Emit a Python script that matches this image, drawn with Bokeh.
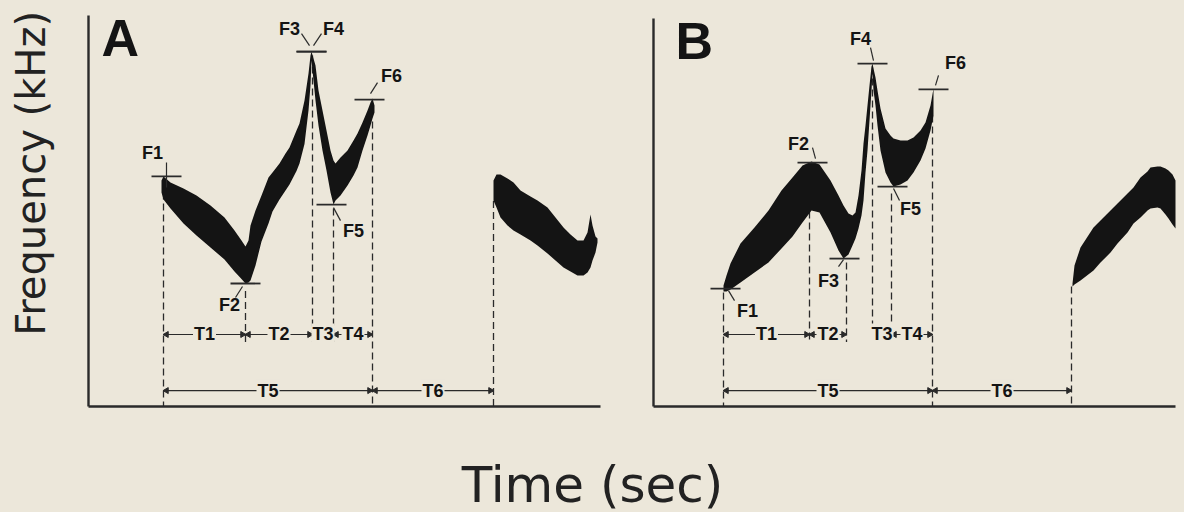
import math
from bokeh.plotting import figure
from bokeh.layouts import column, row
from bokeh.models import Range1d
from bokeh.core.properties import value
from bokeh.embed import file_html
from bokeh.resources import INLINE

BG = "#ECE7DA"
INK = "#141414"
LINE = "#2a2a2a"

# ---------------- data (time in ms from axis origin, frequency in kHz) ----------------
# Panel A: song contour (upper / lower edge of the trace)
a_song_t = [73, 75, 82, 95, 108, 122, 136, 146, 153, 157, 160, 162, 167, 173, 180, 184, 191, 197, 201, 208,
            211, 216, 220, 222, 223, 225, 227, 230, 234, 238, 242, 245, 247, 252, 259, 265, 269, 274, 279, 282,
            284, 286]
a_song_hi = [7.53, 7.67, 7.47, 7.27, 7.03, 6.70, 6.30, 5.87, 5.53, 5.33, 5.53, 6.03, 6.53, 7.03, 7.63, 7.80,
             8.10, 8.43, 8.63, 9.20, 9.43, 10.20, 11.10, 11.70, 11.83, 11.60, 11.37, 10.53, 9.87, 9.20, 8.53,
             8.20, 8.10, 8.30, 8.53, 8.87, 9.10, 9.47, 9.87, 10.13, 10.27, 10.03]
a_song_lo = [7.13, 6.90, 6.60, 6.10, 5.70, 5.30, 4.90, 4.50, 4.25, 4.10, 4.13, 4.20, 4.70, 5.50, 6.10, 6.50,
             6.90, 7.20, 7.40, 7.85, 8.10, 8.75, 9.87, 10.70, 11.53, 10.87, 10.20, 9.37, 8.53, 7.87, 7.13,
             6.73, 6.87, 7.03, 7.37, 7.70, 7.97, 8.53, 9.03, 9.37, 9.60, 9.80]
# Panel A: start of the next song
a_next_t = [405, 408, 412, 419, 425, 432, 442, 449, 459, 467, 475, 482, 489, 495, 499, 502, 504, 507, 509]
a_next_hi = [7.53, 7.73, 7.73, 7.60, 7.47, 7.20, 7.00, 6.87, 6.63, 6.30, 5.97, 5.73, 5.53, 5.53, 5.80, 6.40,
             6.03, 5.67, 5.60]
a_next_lo = [6.87, 6.63, 6.30, 6.03, 5.87, 5.73, 5.53, 5.37, 5.10, 4.87, 4.63, 4.50, 4.37, 4.37, 4.47, 4.63,
             4.87, 5.13, 5.47]
# Panel A: frequency measurement points
a_f_names = ["F1", "F2", "F3", "F4", "F5", "F6"]
a_f_t = [78, 157, 223, 223, 243, 281]
a_f_khz = [7.67, 4.10, 11.83, 11.83, 6.73, 10.23]
# Panel A: time intervals
a_bound_t = [75, 157, 224, 245, 284, 405]
a_bound_top = [7.50, 3.85, 11.70, 6.60, 9.50, 6.85]
a_bound_to_axis = [True, False, False, False, True, True]
a_t_names = ["T1", "T2", "T3", "T4"]
a_t_start = [75, 157, 224, 245]
a_t_end = [157, 224, 245, 284]
a_tt_names = ["T5", "T6"]
a_tt_start = [75, 284]
a_tt_end = [284, 405]

# Panel B
b_song_t = [70, 73, 77, 87, 101, 115, 128, 139, 149, 158, 166, 177, 185, 190, 195, 199, 202, 205, 208, 210,
            212, 214, 216, 218, 219, 220, 222, 224, 227, 232, 237, 240, 247, 254, 260, 267, 272, 277, 280]
b_song_hi = [4.03, 4.37, 4.77, 5.43, 5.97, 6.53, 7.20, 7.63, 8.03, 8.17, 8.07, 7.53, 7.03, 6.70, 6.43, 6.37,
             6.47, 7.03, 7.87, 8.77, 9.37, 10.03, 10.70, 11.33, 11.43, 11.27, 10.97, 10.53, 9.93, 9.27, 9.03,
             8.93, 8.87, 8.87, 8.97, 9.20, 9.47, 10.03, 10.60]
b_song_lo = [3.83, 3.83, 3.90, 4.13, 4.47, 4.80, 5.27, 5.67, 6.13, 6.53, 6.47, 5.80, 5.20, 4.93, 5.07, 5.37,
             5.60, 5.93, 6.37, 6.87, 7.80, 8.53, 9.53, 10.53, 11.13, 10.53, 10.03, 9.37, 8.53, 7.80, 7.47,
             7.33, 7.40, 7.53, 7.80, 8.20, 8.60, 9.20, 9.70]
b_next_t = [419, 421, 427, 440, 447, 457, 464, 474, 480, 487, 494, 497, 504, 507, 512, 515, 519, 522]
b_next_hi = [4.10, 4.70, 5.30, 5.97, 6.20, 6.53, 6.77, 7.10, 7.30, 7.63, 7.83, 7.97, 8.00, 8.00, 7.93, 7.87,
             7.73, 7.53]
b_next_lo = [4.00, 4.07, 4.20, 4.53, 4.80, 5.13, 5.43, 5.80, 6.10, 6.30, 6.53, 6.60, 6.63, 6.60, 6.40, 6.27,
             6.07, 5.93]
b_f_names = ["F1", "F2", "F3", "F4", "F5", "F6"]
b_f_t = [72, 159, 191, 219, 239, 280]
b_f_khz = [3.93, 8.13, 4.93, 11.43, 7.33, 10.57]
b_bound_t = [70, 156, 193, 219, 238, 279, 418]
b_bound_top = [3.80, 6.50, 4.80, 11.30, 7.10, 9.70, 4.00]
b_bound_to_axis = [True, False, False, False, False, True, True]
b_t_names = ["T1", "T2", "T3", "T4"]
b_t_start = [70, 156, 219, 238]
b_t_end = [156, 193, 238, 279]
b_tt_names = ["T5", "T6"]
b_tt_start = [70, 279]
b_tt_end = [279, 418]

# ---------------- layout / style constants ----------------
AW, BW, PH = 604, 580, 448
Y_RANGE = (-1.4, 13.533)
A_X_RANGE = (-88, 516)
B_X_RANGE = (-49, 531)
KHZ_PER_PX = (Y_RANGE[1] - Y_RANGE[0]) / PH
MS_PER_PX = (A_X_RANGE[1] - A_X_RANGE[0]) / AW
ROW1 = 2.4      # level of T1..T4 dimension line
ROW2 = 0.53     # level of T5/T6 dimension line
ROW_STOP = 2.15 # where short dashed lines stop
LBL_FONT = value("Liberation Sans")
LBL_SIZE = "18px"

# label offsets (screen px) and leader strokes (px relative to the point)
a_lbl_dx = [-14, -16, -22, 22, 22, 22]
a_lbl_dy = [-23, 22, -23, -23, 26, -24]
a_leaders = [(0, -14, 0, 11), (-3, 3, -10, 14), (-10, -18, -2, -6), (10, -18, 2, -6), (2, 3, 9, 16), (8, -17, 1, -6)]
b_lbl_dx = [22, -14, -16, -12, 18, 22]
b_lbl_dy = [22, -19, 22, -25, 22, -26]
b_leaders = [(3, 2, 9, 12), (0, -15, 3, -4), (-6, 8, -1, 1), (-2, -16, 1, -3), (1, 2, 7, 14), (5, -14, 2, -4)]


def make_fig(w, xr):
    p = figure(width=w, height=PH, x_range=Range1d(*xr), y_range=Range1d(*Y_RANGE),
               output_backend="svg", toolbar_location=None,
               x_axis_location=None, y_axis_location=None, min_border=0,
               background_fill_color=BG, border_fill_color=BG, outline_line_color=None)
    p.grid.grid_line_color = None
    return p


def draw_panel(p, letter, letter_pos, song, nxt, fpts, lbl_dx, lbl_dy, leaders,
               bounds, ints, long_ints, axis_top, axis_end):
    # axes
    p.segment(x0=[0, 0], y0=[0, 0], x1=[0, axis_end], y1=[axis_top, 0], line_color=LINE, line_width=2.4)
    # dashed boundaries
    bt, btop, bax = bounds
    p.segment(x0=bt, y0=btop, x1=bt, y1=[0 if ax else ROW_STOP for ax in bax],
              line_color=LINE, line_width=1.3, line_dash="7 4")
    # traces
    for t, hi, lo in (song, nxt):
        p.varea(x=t, y1=lo, y2=hi, fill_color=INK)
    # frequency markers
    ft, ff, fn = fpts
    hw = 15 * MS_PER_PX
    p.segment(x0=[t - hw for t in ft], y0=ff, x1=[t + hw for t in ft], y1=ff, line_color=LINE, line_width=1.8)
    p.segment(x0=[t + l[0] * MS_PER_PX for t, l in zip(ft, leaders)],
              y0=[f - l[1] * KHZ_PER_PX for f, l in zip(ff, leaders)],
              x1=[t + l[2] * MS_PER_PX for t, l in zip(ft, leaders)],
              y1=[f - l[3] * KHZ_PER_PX for f, l in zip(ff, leaders)],
              line_color=LINE, line_width=1.2)
    p.text(x=ft, y=ff, text=fn, x_offset=lbl_dx, y_offset=lbl_dy, text_align="center",
           text_baseline="middle", text_font=LBL_FONT, text_font_style="bold",
           text_font_size=LBL_SIZE, text_color=INK)
    # dimension lines
    for (names, st, en), lvl in ((ints, ROW1), (long_ints, ROW2)):
        p.segment(x0=st, y0=[lvl] * len(st), x1=en, y1=[lvl] * len(st), line_color=LINE, line_width=1.2)
        ax_ = [s + 3 * MS_PER_PX for s in st] + [e - 3 * MS_PER_PX for e in en]
        ang = [math.pi / 2] * len(st) + [-math.pi / 2] * len(en)
        p.scatter(x=ax_, y=[lvl] * len(ax_), marker="triangle", size=6, angle=ang,
                  fill_color=LINE, line_color=LINE)
        p.text(x=[(s + e) / 2 for s, e in zip(st, en)], y=[lvl] * len(st), text=names,
               text_align="center", text_baseline="middle", text_font=LBL_FONT,
               text_font_style="bold", text_font_size=LBL_SIZE, text_color=INK,
               background_fill_color=BG, padding=1)
    # panel letter
    p.text(x=[letter_pos[0]], y=[letter_pos[1]], text=[letter], text_align="left",
           text_baseline="middle", text_font=LBL_FONT, text_font_style="bold",
           text_font_size="52px", text_color=INK)


pa = make_fig(AW, A_X_RANGE)
draw_panel(pa, "A", (13, 12.28), (a_song_t, a_song_hi, a_song_lo), (a_next_t, a_next_hi, a_next_lo),
           (a_f_t, a_f_khz, a_f_names), a_lbl_dx, a_lbl_dy, a_leaders,
           (a_bound_t, a_bound_top, a_bound_to_axis), (a_t_names, a_t_start, a_t_end),
           (a_tt_names, a_tt_start, a_tt_end), 13.03, 512)
pa.text(x=[-58], y=[7.77], text=["Frequency (kHz)"], angle=math.pi / 2, text_align="center",
        text_baseline="alphabetic", text_font=value("DejaVu Sans"), text_font_size="40px",
        text_color="#222222")

pb = make_fig(BW, B_X_RANGE)
draw_panel(pb, "B", (22, 12.17), (b_song_t, b_song_hi, b_song_lo), (b_next_t, b_next_hi, b_next_lo),
           (b_f_t, b_f_khz, b_f_names), b_lbl_dx, b_lbl_dy, b_leaders,
           (b_bound_t, b_bound_top, b_bound_to_axis), (b_t_names, b_t_start, b_t_end),
           (b_tt_names, b_tt_start, b_tt_end), 12.93, 522)

CW, CH = AW + BW, 64
pc = figure(width=CW, height=CH, x_range=Range1d(0, CW), y_range=Range1d(0, CH),
            output_backend="svg", toolbar_location=None, x_axis_location=None, y_axis_location=None,
            min_border=0, background_fill_color=BG, border_fill_color=BG, outline_line_color=None)
pc.grid.grid_line_color = None
pc.text(x=[CW / 2], y=[28], text=["Time (sec)"], text_align="center", text_baseline="middle",
        text_font=value("DejaVu Sans"), text_font_size="50px", text_color="#222222")

layout = column(row(pa, pb), pc)
html = file_html(layout, INLINE, title="Song measurements")
html = html.replace("</head>", "<style>html, body { background: %s; overflow: hidden; }</style></head>" % BG, 1)
open("out.html", "w").write(html)
